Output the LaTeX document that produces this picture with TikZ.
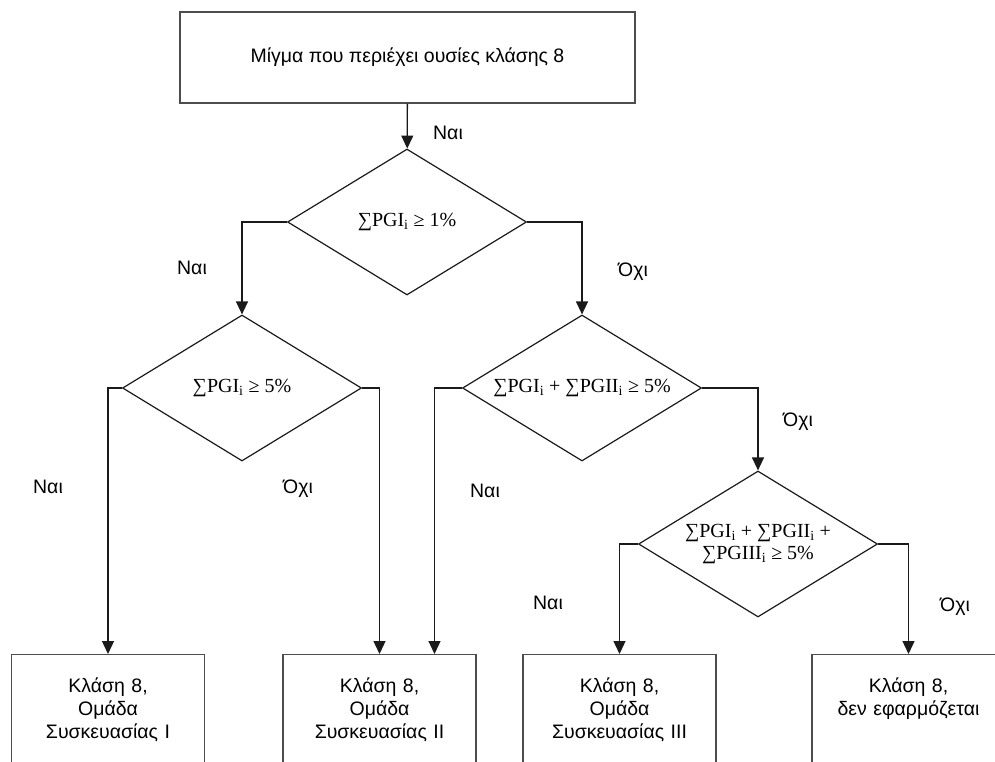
\documentclass[tikz,border=0pt]{standalone}
\usepackage{fontspec}
\setmainfont{Liberation Sans}
\newfontfamily\formulafont{Liberation Serif}
\usetikzlibrary{arrows.meta,positioning,shapes.geometric}
\definecolor{FlowInk}{HTML}{1A1A1A}
\definecolor{BoxEdge}{HTML}{4D4D4D}
\newcommand{\pgsum}[1]{∑PG#1\textsubscript{i}}

\begin{document}
\begin{tikzpicture}[x=1pt,y=-1pt,
    every node/.style={font=\fontsize{19.5}{23}\selectfont},
    startbox/.style={rectangle,draw=BoxEdge,line width=1.4pt,minimum width=455pt,minimum height=91pt},
    test/.style={diamond,shape aspect=1.64,draw=FlowInk,line width=1.2pt,minimum width=239pt,minimum height=146pt,inner sep=0pt,align=center,font=\formulafont\fontsize{20}{22}\selectfont},
    outcome/.style={rectangle,draw=BoxEdge,line width=1.4pt,anchor=north,text width=185pt,align=center,inner xsep=4pt,inner ysep=4pt,text height=34pt,text depth=79pt},
    flow/.style={draw=FlowInk,line width=1.3pt,-{Triangle[length=13pt,width=12pt]}}]
    \useasboundingbox (0,0) rectangle (995,762);
    \clip (0,0) rectangle (995,762);
    \node[startbox] (mix) at (407.5,57.5) {Μίγμα που περιέχει ουσίες κλάσης 8};
    \node[test] (q1) at (407,222) {\pgsum{I} ≥ 1\%};
    \node[test] (q2) at (242,388) {\pgsum{I} ≥ 5\%};
    \node[test] (q3) at (582,388) {\pgsum{I} + \pgsum{II} ≥ 5\%};
    \node[test] (q4) at (758,544) {\pgsum{I} + \pgsum{II} +\\ \pgsum{III} ≥ 5\%};
    \node[outcome] (pg1) at (108,654) {Κλάση 8,\\ Ομάδα\\ Συσκευασίας I};
    \node[outcome] (pg2) at (379.5,654) {Κλάση 8,\\ Ομάδα\\ Συσκευασίας II};
    \node[outcome] (pg3) at (619.5,654) {Κλάση 8,\\ Ομάδα\\ Συσκευασίας III};
    \node[outcome] (none) at (908.5,654) {Κλάση 8,\\ δεν εφαρμόζεται};
    \draw[flow] (mix) -- (q1);
    \draw[flow] (q1.west) -| (q2.north);
    \draw[flow] (q1.east) -| (q3.north);
    \draw[flow] (q2.west) -| (pg1.north);
    \draw[flow] (q2.east) -| (pg2.north);
    \draw[flow] (q3.west) -| ([xshift=55pt]pg2.north);
    \draw[flow] (q3.east) -| (q4.north);
    \draw[flow] (q4.west) -| (pg3.north);
    \draw[flow] (q4.east) -| (none.north);
    \node (yes0) at (448,133) {Ναι};
    \node (yes1) at (192,268) {Ναι};
    \node (no1) at (633,272) {Όχι};
    \node (yes2) at (48,487) {Ναι};
    \node (no2) at (298,489) {Όχι};
    \node (yes3) at (485,491) {Ναι};
    \node (no3) at (798,422) {Όχι};
    \node (yes4) at (548,603) {Ναι};
    \node (no4) at (955,607) {Όχι};
\end{tikzpicture}
\end{document}
